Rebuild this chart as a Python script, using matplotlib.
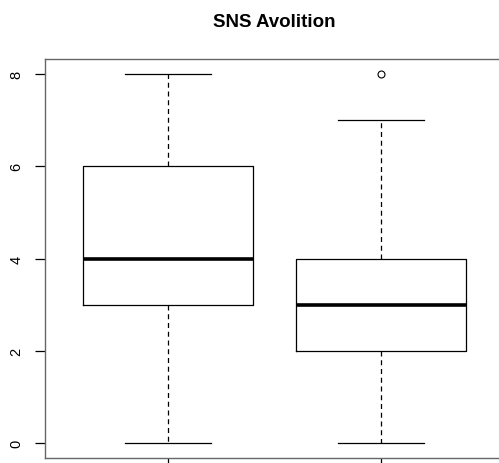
import matplotlib.pyplot as plt

plt.rcParams['font.family'] = ['Liberation Sans', 'DejaVu Sans']

# five-number summaries
groups = ["1", "2"]
whislo = [0, 0]
q1 = [3, 2]
med = [4, 3]
q3 = [6, 4]
whishi = [8, 7]
fliers = [[], [8]]
yticks = [0, 2, 4, 6, 8]

stats = []
for i in range(len(groups)):
    stats.append({"label": groups[i], "whislo": whislo[i], "q1": q1[i], "med": med[i],
                  "q3": q3[i], "whishi": whishi[i], "fliers": fliers[i]})

fig = plt.figure(figsize=(4.99, 4.64), dpi=100)
ax = fig.add_axes([44.5 / 499, 5 / 464, 460 / 499, 399 / 464])

ax.bxp(stats, positions=[1, 2], widths=0.8,
       boxprops=dict(color="black", linewidth=0.9),
       whiskerprops=dict(color="black", linewidth=0.9, linestyle=(0, (4, 3))),
       capprops=dict(color="black", linewidth=0.9),
       medianprops=dict(color="black", linewidth=2.6),
       flierprops=dict(marker="o", markersize=5, markerfacecolor="none",
                       markeredgecolor="black", markeredgewidth=0.8),
       capwidths=0.4)

ax.set_xlim(0.42, 2.58)
ax.set_ylim(-0.32, 8.32)
ax.set_yticks(yticks)
ax.set_yticklabels([str(v) for v in yticks], rotation=90, va="center", fontsize=10.5)
ax.set_xticks([1, 2])
ax.set_xticklabels([])
ax.tick_params(length=7, width=0.9, color="black", pad=8)
for s in ax.spines.values():
    s.set_color("#666666")
    s.set_linewidth(1.0)

ax.set_title("SNS Avolition", fontsize=13.5, fontweight="bold", pad=24)

fig.savefig("out.png", dpi=100)
